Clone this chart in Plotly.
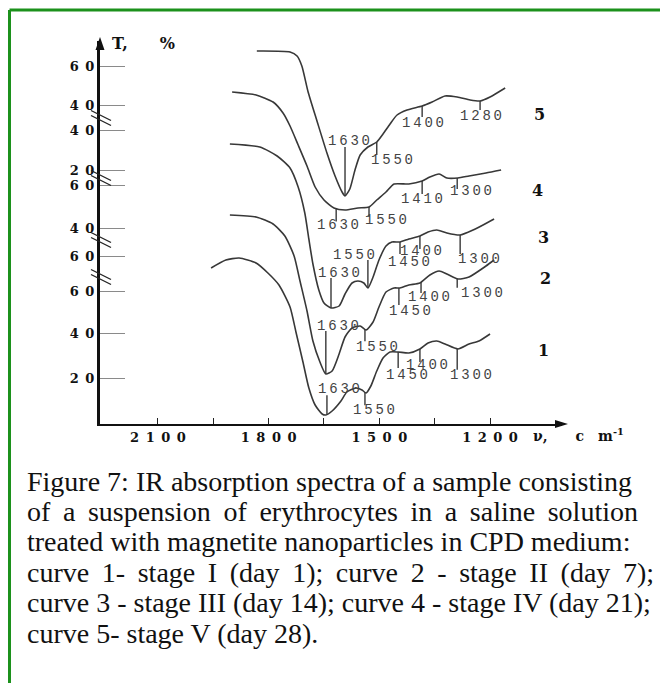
import numpy as np
import plotly.graph_objects as go

# five stacked IR spectra: wavenumber (cm-1) and vertical chart position (offset units)
c1_x = [1956, 1916, 1880, 1834, 1802, 1772, 1742, 1726, 1707, 1691, 1674, 1655, 1645, 1628, 1604, 1588, 1563,
        1547, 1536, 1523, 1507, 1490, 1471, 1449, 1420, 1390, 1368, 1344, 1322, 1287, 1257, 1230, 1200]
c1_y = [156, 164, 166, 161, 151, 139, 117, 92, 62, 36, 19, 10, 9, 13, 23, 32, 36,
        34, 31, 38, 53, 66, 72, 72, 71, 75, 81, 83, 80, 75, 80, 83, 90]

c2_x = [1905, 1834, 1788, 1756, 1731, 1715, 1696, 1680, 1661, 1645, 1628, 1609, 1593, 1574, 1552,
        1536, 1517, 1501, 1482, 1460, 1444, 1420, 1390, 1363, 1338, 1317, 1287, 1257, 1211, 1189]
c2_y = [209, 207, 200, 188, 168, 143, 113, 83, 62, 50, 53, 70, 87, 96, 98,
        94, 102, 117, 132, 136, 136, 139, 141, 149, 153, 150, 145, 147, 158, 164]

c3_x = [1905, 1824, 1777, 1742, 1720, 1702, 1691, 1680, 1664, 1650, 1631, 1609, 1593, 1574, 1558,
        1542, 1531, 1517, 1501, 1482, 1466, 1444, 1420, 1390, 1368, 1344, 1317, 1281, 1246, 1189]
c3_y = [280, 277, 268, 256, 237, 211, 185, 160, 134, 121, 116, 118, 130, 141, 143,
        141, 136, 147, 164, 178, 182, 182, 185, 188, 192, 194, 191, 189, 194, 205]

c4_x = [1899, 1834, 1788, 1761, 1742, 1720, 1696, 1674, 1650, 1623, 1593, 1558, 1528,
        1507, 1482, 1460, 1420, 1384, 1363, 1338, 1317, 1287, 1257, 1211, 1170]
c4_y = [332, 329, 322, 311, 298, 279, 258, 237, 224, 216, 214, 216, 217,
        224, 232, 240, 240, 243, 247, 250, 246, 246, 248, 251, 254]

c5_x = [1832, 1742, 1723, 1710, 1693, 1669, 1642, 1620, 1601, 1593, 1580, 1566, 1552, 1531,
        1507, 1490, 1471, 1452, 1425, 1384, 1357, 1322, 1289, 1254, 1227, 1200, 1159]
c5_y = [373, 372, 368, 358, 332, 303, 271, 248, 232, 228, 235, 254, 269, 277,
        282, 290, 300, 309, 314, 318, 322, 328, 327, 324, 323, 327, 336]

# band marks: label, position (cm-1), tick length (+ up / - down)
p1_lab = ["1630", "1550", "1450", "1400", "1300"]
p1_x = [1642, 1539, 1449, 1390, 1289]
p1_len = [19, -13, -16, -13, -21]
p2_lab = ["1630", "1550", "1450", "1400", "1300"]
p2_x = [1645, 1539, 1447, 1387, 1289]
p2_len = [43, -12, -17, -11, -9]
p3_lab = ["1630", "1550", "1450", "1400", "1300"]
p3_x = [1631, 1531, 1444, 1390, 1281]
p3_len = [30, 28, -12, -13, -19]
p4_lab = ["1630", "1550", "1410", "1300"]
p4_x = [1617, 1528, 1384, 1289]
p4_len = [-13, -10, -13, -11]
p5_lab = ["1630", "1550", "1400", "1280"]
p5_x = [1593, 1507, 1384, 1227]
p5_len = [49, -13, -11, -9]

y_tickvals = [358, 319, 294, 254, 239, 196, 168, 133, 91, 46]
y_ticktext = ["60", "40", "40", "20", "60", "40", "60", "60", "40", "20"]
y_breaks = [306, 246, 184, 147]
x_tickvals = [2100, 1950, 1800, 1650, 1500, 1350, 1200]
x_ticktext = ["2100", "", "1800", "", "1500", "", "1200"]

caption = [
    "Figure 7: IR absorption spectra of a sample consisting",
    "of a suspension of erythrocytes in a saline solution",
    "treated with magnetite nanoparticles in CPD medium:",
    "curve 1- stage I (day 1); curve 2 - stage II (day 7);",
    "curve 3 - stage III (day 14); curve 4 - stage IV (day 21);",
    "curve 5- stage V (day 28).",
]
caption_stretch = [False, True, False, True, False, False]

W, H = 668, 683
PAGE = 8  # browser body margin
ML, MR, MT, MB = 92, 114, 33, 267
PW, PH = W - ML - MR, H - MT - MB
INK = "#383838"


def fx(s):
    # screen x (px) -> paper
    return (s - PAGE - ML) / PW


def fy(s):
    # screen y (px) -> paper
    return (H - MB - (s - PAGE)) / PH


def spaced(s, sep):
    return sep.join(list(s))


curves = [(c1_x, c1_y), (c2_x, c2_y), (c3_x, c3_y), (c4_x, c4_y), (c5_x, c5_y)]
peaks = [(p1_lab, p1_x, p1_len), (p2_lab, p2_x, p2_len), (p3_lab, p3_x, p3_len),
         (p4_lab, p4_x, p4_len), (p5_lab, p5_x, p5_len)]
# text offsets (px) of each band label from the end of its tick
peak_text_shift = [
    [(12, 6), (9, -5), (9, -7), (7, -3), (14, -5)],
    [(12, 5), (12, -6), (11, -6), (8, -4), (25, -5)],
    [(8, 5), (-14, 5), (9, -8), (1, -2), (19, -5)],
    [(2, -4), (17, -3), (0, -5), (14, -2)],
    [(4, 6), (15, -5), (1, -6), (1, -6)],
]
curve_num_pos = [(1055, 74), (1051, 146), (1056, 187), (1072, 234), (1066, 310)]

fig = go.Figure()
annotations = []

for i, ((cx, cy), (labs, px_, lens)) in enumerate(zip(curves, peaks)):
    fig.add_trace(go.Scatter(x=cx, y=cy, mode="lines", line=dict(color=INK, width=1.6, shape="spline", smoothing=0.6),
                             hoverinfo="skip", showlegend=False))
    xs, ys = [], []
    for j, (lab, xp, ln) in enumerate(zip(labs, px_, lens)):
        yc = float(np.interp(xp, cx[::-1], cy[::-1]))
        xs += [xp, xp, None]
        ys += [yc, yc + ln, None]
        dx, dy = peak_text_shift[i][j]
        annotations.append(dict(x=xp, y=yc + ln, xref="x", yref="y", text=spaced(lab, "\u2009"), showarrow=False,
                                xshift=dx, yshift=dy, xanchor="center", yanchor="middle",
                                font=dict(family="Liberation Mono", size=14, color="#444444")))
    fig.add_trace(go.Scatter(x=xs, y=ys, mode="lines", line=dict(color=INK, width=1.4),
                             hoverinfo="skip", showlegend=False))
    nx, ny = curve_num_pos[i]
    annotations.append(dict(x=nx, y=ny, xref="x", yref="y", text="<b>%d</b>" % (i + 1), showarrow=False,
                            font=dict(family="DejaVu Serif", size=16, color="#111111")))

# axis titles
annotations.append(dict(x=fx(110), y=fy(43), xref="paper", yref="paper", xanchor="left", yanchor="middle",
                        text="<b>T,\u2003\u2003%</b>", showarrow=False,
                        font=dict(family="DejaVu Serif", size=16, color="#111111")))
annotations.append(dict(x=fx(531), y=fy(435), xref="paper", yref="paper", xanchor="left", yanchor="middle",
                        text="<b>ν,\u2003\u2003c\u2003m<sup>-1</sup></b>", showarrow=False,
                        font=dict(family="DejaVu Serif", size=14, color="#111111")))

for k, (line, stretch) in enumerate(zip(caption, caption_stretch)):
    txt = line.replace(" ", " \u2009") if stretch else line
    annotations.append(dict(x=fx(25), y=fy(481 + 30.4 * k), xref="paper", yref="paper", xanchor="left",
                            yanchor="middle", text=txt, showarrow=False,
                            font=dict(family="Liberation Serif", size=28, color="#111111")))

shapes = []
for b in y_breaks:
    for off in (2.5, -2.5):
        shapes.append(dict(type="line", xref="paper", yref="y", x0=fx(91), y0=b + off + 5, x1=fx(111),
                           y1=b + off - 5, line=dict(color="#222222", width=1.3)))
# axis arrowheads
shapes.append(dict(type="path", xref="paper", yref="paper",
                   path="M %f %f L %f %f L %f %f Z" % (fx(100), fy(37), fx(95.5), fy(50), fx(104.5), fy(50)),
                   fillcolor="#111111", line=dict(width=0)))
shapes.append(dict(type="path", xref="paper", yref="paper",
                   path="M %f %f L %f %f L %f %f Z" % (fx(568), fy(424), fx(555), fy(420), fx(555), fy(428)),
                   fillcolor="#111111", line=dict(width=0)))
# green frame
shapes.append(dict(type="line", xref="paper", yref="paper", x0=fx(9.5), y0=fy(10), x1=fx(680), y1=fy(10),
                   line=dict(color="#1c911c", width=3)))
shapes.append(dict(type="line", xref="paper", yref="paper", x0=fx(9.5), y0=fy(10), x1=fx(9.5), y1=fy(700),
                   line=dict(color="#1c911c", width=3)))

fig.update_layout(
    width=W, height=H,
    margin=dict(l=ML, r=MR, t=MT, b=MB),
    paper_bgcolor="white", plot_bgcolor="white",
    showlegend=False,
    annotations=annotations,
    shapes=shapes,
    xaxis=dict(range=[2257, 1005], tickvals=x_tickvals,
               ticktext=["<b>%s</b>" % spaced(t, "\u2002") if t else " " for t in x_ticktext],
               ticks="inside", ticklen=6, tickcolor="#222222", tickwidth=1.2,
               showline=True, linecolor="#111111", linewidth=2, showgrid=False, zeroline=False,
               tickfont=dict(family="DejaVu Serif", size=13, color="#111111")),
    yaxis=dict(range=[0, 383], tickvals=y_tickvals,
               ticktext=["<b>%s</b>" % spaced(t, "\u2002") for t in y_ticktext],
               ticks="inside", ticklen=25, tickcolor="#8a8a8a", tickwidth=1,
               showline=True, linecolor="#111111", linewidth=3, showgrid=False, zeroline=False,
               tickfont=dict(family="DejaVu Serif", size=13, color="#111111")),
)

fig.write_html("out.html")
